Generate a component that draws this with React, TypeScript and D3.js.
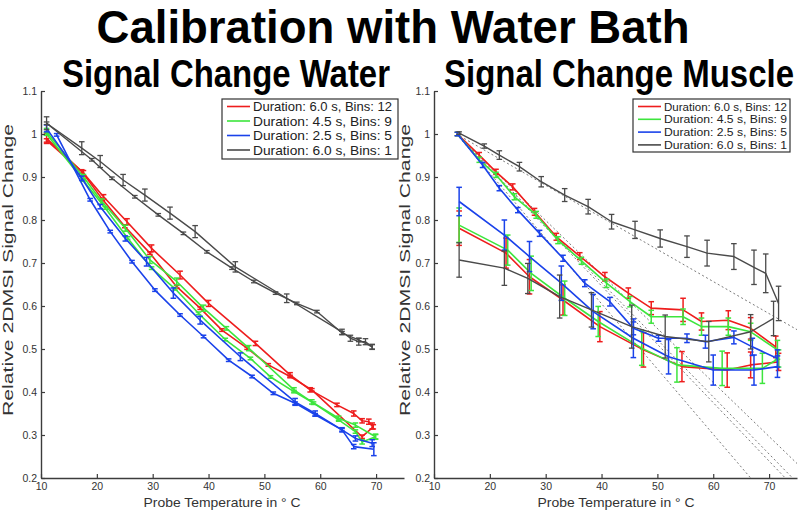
import { useEffect, useRef } from "react";
import * as d3 from "d3";

// [temperature °C, relative signal, error half-width]
type Pt = [number, number, number];

const FONT = "'Liberation Sans', Arial, Helvetica, sans-serif";
const COLORS = ["#ee1d1d", "#3de53d", "#1a42ea", "#4a4a4a"];
const legendLabels = [
  "Duration: 6.0 s, Bins: 12",
  "Duration: 4.5 s, Bins: 9",
  "Duration: 2.5 s, Bins: 5",
  "Duration: 6.0 s, Bins: 1",
];
const xTicks = [10, 20, 30, 40, 50, 60, 70];
const yTicks = [0.2, 0.3, 0.4, 0.5, 0.6, 0.7, 0.8, 0.9, 1, 1.1];

// ---- Water: two runs per duration (A = larger error bars, B = small) ----
const waterRedA: Pt[] = [
  [11, 0.99, 0.012], [17.6, 0.909, 0.006], [21.2, 0.854, 0.005], [25.4, 0.796, 0.007],
  [29.8, 0.734, 0.008], [34.9, 0.672, 0.009], [40.0, 0.606, 0.007], [48.4, 0.513, 0.005],
  [54.6, 0.44, 0.005], [58.2, 0.405, 0.005], [63.0, 0.37, 0.004], [66.0, 0.35, 0.006],
  [67.5, 0.333, 0.005], [68.7, 0.331, 0.006], [69.3, 0.321, 0.007],
];
const waterRedB: Pt[] = [
  [11, 0.985, 0.004], [17.3, 0.913, 0.004], [21.0, 0.848, 0.003], [25.0, 0.785, 0.003],
  [29.5, 0.723, 0.003], [34.3, 0.645, 0.003], [38.5, 0.595, 0.003], [42.4, 0.544, 0.003],
  [46.9, 0.502, 0.003], [50.7, 0.463, 0.003], [54.6, 0.436, 0.003], [58.5, 0.405, 0.003],
  [67.5, 0.296, 0.004], [69.5, 0.319, 0.005],
];
const waterGreenA: Pt[] = [
  [11, 1.005, 0.008], [17.6, 0.9, 0.006], [20.9, 0.843, 0.006], [25.1, 0.781, 0.007],
  [29.5, 0.707, 0.008], [34.3, 0.657, 0.008], [39.1, 0.595, 0.007], [43.2, 0.548, 0.004],
  [47.2, 0.502, 0.006], [55.3, 0.405, 0.005], [58.5, 0.377, 0.005], [63.3, 0.339, 0.005],
  [66.3, 0.323, 0.005], [69.9, 0.296, 0.006],
];
const waterGreenB: Pt[] = [
  [11, 1.0, 0.003], [17.5, 0.893, 0.003], [21.5, 0.828, 0.003], [25.5, 0.758, 0.003],
  [29.8, 0.688, 0.003], [34.0, 0.64, 0.003], [38.2, 0.583, 0.003], [43.0, 0.522, 0.003],
  [47.5, 0.478, 0.003], [51.1, 0.435, 0.003], [55.3, 0.401, 0.003], [58.8, 0.374, 0.003],
  [63.3, 0.335, 0.003], [66.3, 0.308, 0.004], [67.5, 0.284, 0.005], [69.9, 0.296, 0.005],
];
const waterBlueA: Pt[] = [
  [11, 1.013, 0.008], [17.3, 0.897, 0.005], [20.6, 0.831, 0.005], [25.1, 0.757, 0.006],
  [28.9, 0.703, 0.01], [33.7, 0.63, 0.012], [38.5, 0.567, 0.009], [45.7, 0.482, 0.009],
  [55.5, 0.377, 0.008], [59.1, 0.35, 0.006], [63.9, 0.312, 0.005], [66.3, 0.292, 0.006],
  [69.3, 0.281, 0.008],
];
const waterBlueB: Pt[] = [
  [12.8, 0.998, 0.003], [18.8, 0.847, 0.003], [22.4, 0.773, 0.003], [26.3, 0.703, 0.003],
  [30.4, 0.637, 0.003], [34.9, 0.579, 0.003], [39.1, 0.529, 0.003], [43.6, 0.474, 0.003],
  [47.8, 0.436, 0.003], [51.6, 0.397, 0.003], [55.5, 0.374, 0.003], [59.1, 0.347, 0.003],
  [63.9, 0.312, 0.003], [66.0, 0.273, 0.005], [69.6, 0.267, 0.015],
];
const waterGrayA: Pt[] = [
  [11, 1.025, 0.015], [17.3, 0.967, 0.015], [20.6, 0.936, 0.014], [24.7, 0.893, 0.013],
  [28.6, 0.858, 0.014], [33.1, 0.816, 0.014], [37.6, 0.773, 0.014], [44.8, 0.691, 0.012],
  [54.0, 0.618, 0.01], [63.9, 0.54, 0.006], [65.4, 0.525, 0.007], [66.9, 0.517, 0.008],
  [68.1, 0.517, 0.007], [69.3, 0.505, 0.006],
];
const waterGrayB: Pt[] = [
  [11, 1.025, 0.003], [19.1, 0.94, 0.003], [22.7, 0.897, 0.003], [26.8, 0.854, 0.003],
  [31.0, 0.812, 0.003], [35.5, 0.769, 0.003], [39.7, 0.726, 0.003], [44.2, 0.688, 0.003],
  [48.1, 0.657, 0.003], [52.0, 0.63, 0.003], [55.8, 0.606, 0.003], [59.4, 0.587, 0.003],
  [63.9, 0.537, 0.004], [66.9, 0.521, 0.004], [69.3, 0.505, 0.005],
];

// ---- Muscle: run A starts at 1.0, run B starts lower ----
const muscleRedA: Pt[] = [
  [14.2, 1.0, 0.004], [18.1, 0.951, 0.006], [21.1, 0.912, 0.006], [24.1, 0.877, 0.007],
  [28.0, 0.819, 0.008], [31.9, 0.761, 0.008], [36.1, 0.716, 0.008], [40.6, 0.668, 0.01],
  [44.8, 0.63, 0.012], [48.9, 0.595, 0.015], [54.6, 0.591, 0.027], [57.9, 0.564, 0.02],
  [62.7, 0.567, 0.022], [66.7, 0.548, 0.025], [71.2, 0.505, 0.025],
];
const muscleGreenA: Pt[] = [
  [14.2, 1.0, 0.004], [18.1, 0.94, 0.006], [21.1, 0.905, 0.006], [24.4, 0.854, 0.007],
  [28.3, 0.812, 0.008], [32.2, 0.753, 0.008], [36.4, 0.705, 0.008], [40.9, 0.653, 0.01],
  [45.1, 0.61, 0.012], [48.9, 0.575, 0.015], [54.6, 0.575, 0.018], [57.9, 0.552, 0.02],
  [62.7, 0.552, 0.02], [66.7, 0.54, 0.02], [71.5, 0.498, 0.022],
];
const muscleBlueA: Pt[] = [
  [14.2, 1.0, 0.004], [18.7, 0.928, 0.006], [21.7, 0.874, 0.006], [25.0, 0.823, 0.006],
  [28.9, 0.769, 0.007], [33.1, 0.711, 0.007], [37.0, 0.653, 0.008], [41.5, 0.61, 0.01],
  [45.7, 0.548, 0.015], [50.2, 0.525, 0.007], [55.3, 0.525, 0.01], [58.6, 0.517, 0.015],
  [63.7, 0.527, 0.015], [67.0, 0.505, 0.02], [71.5, 0.478, 0.02],
];
const muscleGrayA: Pt[] = [
  [14.5, 1.002, 0.003], [19.0, 0.972, 0.005], [21.7, 0.951, 0.01], [25.3, 0.924, 0.01],
  [29.2, 0.889, 0.012], [33.4, 0.858, 0.015], [37.6, 0.831, 0.017], [41.8, 0.796, 0.017],
  [46.0, 0.777, 0.02], [50.5, 0.757, 0.02], [55.3, 0.738, 0.025], [58.9, 0.723, 0.03],
  [63.7, 0.715, 0.03], [67.3, 0.69, 0.04], [69.4, 0.676, 0.045], [71.7, 0.606, 0.04],
];
const muscleRedB: Pt[] = [
  [14.5, 0.781, 0.04], [22.9, 0.723, 0.035], [27.1, 0.668, 0.04], [33.1, 0.614, 0.035],
  [39.7, 0.552, 0.035], [47.5, 0.498, 0.04], [54.4, 0.459, 0.035], [62.5, 0.451, 0.04],
  [66.7, 0.463, 0.03], [71.7, 0.47, 0.02],
];
const muscleGreenB: Pt[] = [
  [14.5, 0.788, 0.04], [23.2, 0.73, 0.035], [27.4, 0.676, 0.04], [33.4, 0.618, 0.04],
  [39.4, 0.564, 0.035], [47.2, 0.502, 0.04], [53.5, 0.463, 0.04], [61.6, 0.455, 0.04],
  [68.8, 0.455, 0.035], [71.7, 0.478, 0.02],
];
const muscleBlueB: Pt[] = [
  [14.5, 0.843, 0.033], [22.6, 0.765, 0.035], [27.1, 0.715, 0.035], [32.8, 0.653, 0.04],
  [38.5, 0.587, 0.04], [45.7, 0.525, 0.045], [52.0, 0.482, 0.04], [60.0, 0.451, 0.035],
  [67.3, 0.451, 0.035], [71.5, 0.459, 0.025],
];
const muscleGrayB: Pt[] = [
  [14.5, 0.707, 0.04], [22.6, 0.688, 0.04], [26.8, 0.664, 0.035], [32.5, 0.622, 0.05],
  [38.2, 0.591, 0.04], [45.4, 0.552, 0.05], [51.4, 0.529, 0.05], [59.2, 0.517, 0.047],
  [66.7, 0.54, 0.04], [70.8, 0.571, 0.04],
];
// linear fits of the first (linear) part, given as two end points
const muscleFits: [number, number][][] = [
  [[14, 1.0], [75, 0.545]],
  [[14, 1.0], [74.2, 0.2]],
  [[14, 1.0], [72.9, 0.2]],
  [[14, 1.0], [66.7, 0.2]],
  [[14, 1.0], [75.3, 0.23]],
];

interface PanelCfg {
  id: string;
  x0: number;
  x1: number;
  title: string;
  titleX: number;
  titleLen: number;
  series: Pt[][][]; // per colour: list of runs
  fits: [number, number][][];
  legend: { x: number; y: number; w: number; h: number; font: number; row: number; textLen: number };
  yLabelX: number;
  xLabelX: number;
}

const panels: PanelCfg[] = [
  {
    id: "water",
    x0: 41,
    x1: 404,
    title: "Signal Change Water",
    titleX: 226,
    titleLen: 328,
    series: [
      [waterRedA, waterRedB],
      [waterGreenA, waterGreenB],
      [waterBlueA, waterBlueB],
      [waterGrayA, waterGrayB],
    ],
    fits: [],
    legend: { x: 222, y: 99, w: 176, h: 60, font: 13, row: 14.5, textLen: 139 },
    yLabelX: 13,
    xLabelX: 222,
  },
  {
    id: "muscle",
    x0: 434,
    x1: 797,
    title: "Signal Change Muscle",
    titleX: 619,
    titleLen: 350,
    series: [
      [muscleRedA, muscleRedB],
      [muscleGreenA, muscleGreenB],
      [muscleBlueA, muscleBlueB],
      [muscleGrayA, muscleGrayB],
    ],
    fits: muscleFits,
    legend: { x: 633, y: 99, w: 157, h: 53, font: 11.5, row: 12.8, textLen: 123 },
    yLabelX: 410,
    xLabelX: 616,
  },
];

const Y_TOP = 91;
const Y_BOT = 478;

export default function App() {
  const svgRef = useRef<SVGSVGElement>(null);

  useEffect(() => {
    if (!svgRef.current) return;
    const svg = d3.select(svgRef.current);
    svg.selectAll("*").remove();

    svg.append("rect").attr("width", 800).attr("height", 512).attr("fill", "#ffffff");

    // Main title
    svg
      .append("text")
      .attr("x", 393)
      .attr("y", 43)
      .attr("text-anchor", "middle")
      .attr("font-family", FONT)
      .attr("font-weight", "bold")
      .attr("font-size", 47)
      .attr("textLength", 593)
      .attr("lengthAdjust", "spacingAndGlyphs")
      .text("Calibration with Water Bath");

    panels.forEach((p) => {
      const x = d3.scaleLinear().domain([10, 75]).range([p.x0, p.x1]);
      const y = d3.scaleLinear().domain([0.2, 1.1]).range([Y_BOT, Y_TOP]);
      const g = svg.append("g");

      // Panel title
      g.append("text")
        .attr("x", p.titleX)
        .attr("y", 87)
        .attr("text-anchor", "middle")
        .attr("font-family", FONT)
        .attr("font-weight", "bold")
        .attr("font-size", 39)
        .attr("textLength", p.titleLen)
        .attr("lengthAdjust", "spacingAndGlyphs")
        .text(p.title);

      // clip for fit lines
      g.append("clipPath")
        .attr("id", `clip-${p.id}`)
        .append("rect")
        .attr("x", p.x0)
        .attr("y", Y_TOP)
        .attr("width", p.x1 - p.x0)
        .attr("height", Y_BOT - Y_TOP);

      const line = d3
        .line<[number, number]>()
        .x((d) => x(d[0]))
        .y((d) => y(d[1]));

      // dashed linear fits
      g.append("g")
        .attr("clip-path", `url(#clip-${p.id})`)
        .selectAll("path")
        .data(p.fits)
        .join("path")
        .attr("d", (d) => line(d))
        .attr("fill", "none")
        .attr("stroke", "#7a7a7a")
        .attr("stroke-width", 1)
        .attr("stroke-dasharray", "2,2.5");

      // series with error bars
      p.series.forEach((runs, ci) => {
        const col = COLORS[ci];
        runs.forEach((run) => {
          const sg = g.append("g");
          sg.append("path")
            .attr("d", line(run.map((d) => [d[0], d[1]] as [number, number])))
            .attr("fill", "none")
            .attr("stroke", col)
            .attr("stroke-width", ci === 3 ? 1.4 : 1.6)
            .attr("stroke-linejoin", "round");
          const eb = sg
            .selectAll("g.eb")
            .data(run)
            .join("g")
            .attr("class", "eb")
            .attr("stroke", col)
            .attr("stroke-width", ci === 3 ? 1.3 : 1.5);
          eb.append("line")
            .attr("x1", (d) => x(d[0]))
            .attr("x2", (d) => x(d[0]))
            .attr("y1", (d) => y(d[1] - d[2]))
            .attr("y2", (d) => y(d[1] + d[2]));
          eb.append("line")
            .attr("x1", (d) => x(d[0]) - 2.8)
            .attr("x2", (d) => x(d[0]) + 2.8)
            .attr("y1", (d) => y(d[1] - d[2]))
            .attr("y2", (d) => y(d[1] - d[2]));
          eb.append("line")
            .attr("x1", (d) => x(d[0]) - 2.8)
            .attr("x2", (d) => x(d[0]) + 2.8)
            .attr("y1", (d) => y(d[1] + d[2]))
            .attr("y2", (d) => y(d[1] + d[2]));
        });
      });

      // Axes (left + bottom only, inward ticks)
      const xAxis = g
        .append("g")
        .attr("transform", `translate(0,${Y_BOT})`)
        .call(
          d3
            .axisBottom(x)
            .tickValues(xTicks)
            .tickSizeInner(-4)
            .tickSizeOuter(0)
            .tickPadding(5)
            .tickFormat(d3.format("d"))
        );
      const yAxis = g
        .append("g")
        .attr("transform", `translate(${p.x0},0)`)
        .call(
          d3
            .axisLeft(y)
            .tickValues(yTicks)
            .tickSizeInner(-4)
            .tickSizeOuter(0)
            .tickPadding(4)
            .tickFormat((d) => d3.format("")(+(+d).toFixed(1)))
        );
      [xAxis, yAxis].forEach((ax) => {
        ax.select(".domain").attr("stroke", "#3c3c3c").attr("stroke-width", 1.4);
        ax.selectAll(".tick line").attr("stroke", "#3c3c3c").attr("stroke-width", 1.2);
        ax.selectAll(".tick text")
          .attr("fill", "#333")
          .attr("font-family", FONT)
          .attr("font-size", 10.5);
      });

      // axis labels
      g.append("text")
        .attr("x", p.xLabelX)
        .attr("y", 507)
        .attr("text-anchor", "middle")
        .attr("font-family", FONT)
        .attr("font-size", 13.2)
        .attr("fill", "#333")
        .attr("textLength", 157)
        .attr("lengthAdjust", "spacingAndGlyphs")
        .text("Probe Temperature in \u00b0 C");
      g.append("text")
        .attr("transform", `translate(${p.yLabelX},270) rotate(-90)`)
        .attr("text-anchor", "middle")
        .attr("font-family", FONT)
        .attr("font-size", 14)
        .attr("fill", "#333")
        .attr("textLength", 292)
        .attr("lengthAdjust", "spacingAndGlyphs")
        .text("Relative 2DMSI Signal Change");

      // legend
      const L = p.legend;
      const lg = g.append("g");
      lg.append("rect")
        .attr("x", L.x)
        .attr("y", L.y)
        .attr("width", L.w)
        .attr("height", L.h)
        .attr("fill", "#fff")
        .attr("stroke", "#333")
        .attr("stroke-width", 1.2);
      legendLabels.forEach((lab, i) => {
        const cy = L.y + 7.5 + L.row * i;
        lg.append("line")
          .attr("x1", L.x + 5)
          .attr("x2", L.x + 28)
          .attr("y1", cy)
          .attr("y2", cy)
          .attr("stroke", COLORS[i])
          .attr("stroke-width", 1.6);
        lg.append("text")
          .attr("x", L.x + 31)
          .attr("y", cy)
          .attr("dy", "0.36em")
          .attr("font-family", FONT)
          .attr("font-size", L.font)
          .attr("fill", "#222")
          .attr("textLength", L.textLen)
          .attr("lengthAdjust", "spacingAndGlyphs")
          .text(lab);
      });
    });
  }, []);

  return (
    <div style={{ position: "absolute", left: 0, top: 0 }}>
      <svg ref={svgRef} width={800} height={512} style={{ display: "block" }} />
    </div>
  );
}
